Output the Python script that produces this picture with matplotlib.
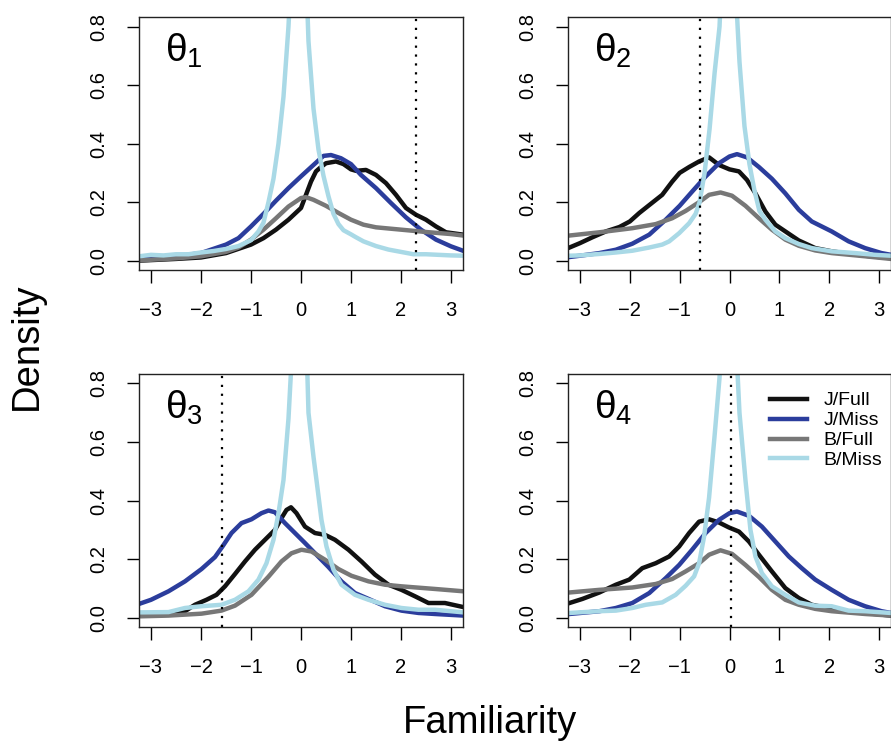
import matplotlib
matplotlib.use("Agg")
import matplotlib.pyplot as plt

plt.rcParams['font.family'] = ['Liberation Sans', 'DejaVu Sans']

# panel 1
t1_jfull_x = [-3.24, -3.0, -2.5, -2.0, -1.5, -1.0, -0.75, -0.5, -0.25, 0.0, 0.1, 0.2, 0.3, 0.4, 0.5, 0.7, 0.85, 1.0, 1.1, 1.3, 1.5, 1.7, 1.9, 2.1, 2.3, 2.5, 2.7, 2.9, 3.24]
t1_jfull_y = [0.0, 0.002, 0.006, 0.011, 0.026, 0.055, 0.077, 0.106, 0.14, 0.18, 0.225, 0.27, 0.305, 0.32, 0.333, 0.339, 0.33, 0.312, 0.307, 0.31, 0.293, 0.265, 0.225, 0.18, 0.157, 0.14, 0.117, 0.097, 0.089]
t1_jmiss_x = [-3.24, -3.0, -2.5, -2.0, -1.5, -1.25, -1.0, -0.75, -0.5, -0.25, 0.0, 0.25, 0.45, 0.6, 0.8, 1.0, 1.2, 1.5, 1.8, 2.1, 2.4, 2.7, 3.0, 3.24]
t1_jmiss_y = [0.006, 0.008, 0.015, 0.026, 0.055, 0.077, 0.117, 0.16, 0.205, 0.248, 0.288, 0.327, 0.358, 0.361, 0.35, 0.33, 0.293, 0.248, 0.197, 0.148, 0.106, 0.072, 0.049, 0.034]
t1_bfull_x = [-3.24, -2.5, -2.0, -1.5, -1.25, -1.0, -0.75, -0.5, -0.25, 0.0, 0.1, 0.25, 0.5, 0.75, 1.0, 1.25, 1.5, 2.0, 2.5, 3.0, 3.24]
t1_bfull_y = [0.001, 0.008, 0.015, 0.03, 0.045, 0.072, 0.106, 0.145, 0.185, 0.214, 0.217, 0.208, 0.1875, 0.163, 0.14, 0.123, 0.114, 0.106, 0.098, 0.091, 0.086]
t1_bmiss_x = [-3.24, -3.0, -2.75, -2.5, -2.25, -2.0, -1.75, -1.5, -1.25, -1.0, -0.85, -0.75, -0.65, -0.55, -0.45, -0.35, -0.25, -0.15, -0.05, 0.05, 0.15, 0.25, 0.35, 0.45, 0.55, 0.65, 0.75, 0.85, 1.0, 1.1, 1.25, 1.5, 1.75, 2.0, 2.25, 2.5, 2.75, 3.0, 3.24]
t1_bmiss_y = [0.015, 0.02, 0.018, 0.022, 0.022, 0.028, 0.033, 0.04, 0.05, 0.07, 0.1, 0.13, 0.2, 0.28, 0.4, 0.56, 0.8, 1.15, 1.4, 1.25, 0.75, 0.52, 0.38, 0.29, 0.22, 0.16, 0.125, 0.104, 0.09, 0.08, 0.066, 0.05, 0.038, 0.03, 0.022, 0.022, 0.02, 0.018, 0.017]

# panel 2
t2_jfull_x = [-3.21, -3.0, -2.75, -2.48, -2.21, -2.0, -1.81, -1.61, -1.35, -1.15, -1.0, -0.81, -0.61, -0.41, -0.21, 0.0, 0.19, 0.35, 0.52, 0.72, 0.92, 1.12, 1.39, 1.72, 2.05, 2.39, 2.72, 3.22]
t2_jfull_y = [0.045, 0.06, 0.08, 0.1, 0.115, 0.134, 0.163, 0.19, 0.225, 0.27, 0.3, 0.32, 0.339, 0.353, 0.327, 0.312, 0.305, 0.276, 0.23, 0.168, 0.123, 0.1, 0.069, 0.043, 0.032, 0.024, 0.017, 0.009]
t2_jmiss_x = [-3.21, -3.0, -2.61, -2.28, -1.95, -1.61, -1.28, -1.0, -0.75, -0.48, -0.21, 0.0, 0.15, 0.35, 0.59, 0.85, 1.12, 1.39, 1.65, 2.05, 2.39, 2.72, 3.05, 3.24]
t2_jmiss_y = [0.0125, 0.017, 0.026, 0.0375, 0.058, 0.089, 0.14, 0.1875, 0.236, 0.2875, 0.333, 0.356, 0.364, 0.353, 0.32, 0.28, 0.23, 0.174, 0.134, 0.1, 0.066, 0.043, 0.026, 0.02]
t2_bfull_x = [-3.21, -2.61, -1.95, -1.48, -1.15, -0.88, -0.61, -0.41, -0.18, 0.05, 0.32, 0.59, 0.85, 1.12, 1.39, 1.72, 2.05, 2.72, 3.24]
t2_bfull_y = [0.086, 0.097, 0.111, 0.125, 0.145, 0.17, 0.2, 0.225, 0.233, 0.222, 0.1875, 0.145, 0.106, 0.072, 0.051, 0.035, 0.026, 0.015, 0.006]
t2_bmiss_x = [-3.21, -3.0, -2.61, -2.28, -1.95, -1.61, -1.35, -1.21, -1.01, -0.81, -0.68, -0.6, -0.5, -0.4, -0.3, -0.2, -0.1, 0.0, 0.1, 0.2, 0.3, 0.4, 0.5, 0.6, 0.72, 0.92, 1.12, 1.39, 1.65, 2.05, 2.52, 2.92, 3.24]
t2_bmiss_y = [0.017, 0.018, 0.023, 0.028, 0.034, 0.045, 0.055, 0.066, 0.094, 0.128, 0.16, 0.2, 0.3, 0.45, 0.64, 0.8, 1.2, 1.4, 1.0, 0.68, 0.46, 0.33, 0.24, 0.17, 0.14, 0.1, 0.077, 0.057, 0.043, 0.032, 0.026, 0.02, 0.017]

# panel 3
t3_jfull_x = [-3.22, -2.65, -2.32, -2.12, -1.89, -1.69, -1.52, -1.32, -1.12, -0.92, -0.72, -0.52, -0.39, -0.29, -0.2, -0.09, 0.08, 0.28, 0.48, 0.68, 0.95, 1.21, 1.48, 1.75, 2.01, 2.28, 2.55, 2.88, 3.25]
t3_jfull_y = [0.007, 0.01, 0.022, 0.044, 0.061, 0.078, 0.107, 0.149, 0.192, 0.232, 0.266, 0.3, 0.34, 0.368, 0.377, 0.357, 0.311, 0.289, 0.283, 0.266, 0.232, 0.192, 0.147, 0.1125, 0.095, 0.073, 0.05, 0.05, 0.036]
t3_jmiss_x = [-3.22, -3.0, -2.65, -2.32, -1.99, -1.72, -1.57, -1.39, -1.19, -0.99, -0.79, -0.65, -0.52, -0.32, -0.12, 0.08, 0.28, 0.55, 0.81, 1.08, 1.35, 1.68, 2.01, 2.35, 2.68, 3.25]
t3_jmiss_y = [0.048, 0.061, 0.09, 0.124, 0.166, 0.207, 0.243, 0.289, 0.323, 0.336, 0.357, 0.366, 0.36, 0.323, 0.289, 0.255, 0.22, 0.173, 0.124, 0.084, 0.064, 0.039, 0.024, 0.016, 0.0125, 0.007]
t3_bfull_x = [-3.22, -2.65, -1.99, -1.59, -1.32, -0.99, -0.65, -0.39, -0.19, 0.01, 0.21, 0.48, 0.75, 1.01, 1.35, 1.68, 2.01, 2.68, 3.25]
t3_bfull_y = [0.0045, 0.007, 0.0136, 0.024, 0.041, 0.078, 0.14, 0.192, 0.22, 0.232, 0.226, 0.198, 0.166, 0.143, 0.124, 0.1125, 0.107, 0.098, 0.09]
t3_bmiss_x = [-3.22, -2.65, -2.32, -1.99, -1.59, -1.32, -1.05, -0.85, -0.69, -0.55, -0.45, -0.35, -0.25, -0.15, -0.05, 0.05, 0.15, 0.25, 0.31, 0.41, 0.51, 0.65, 0.81, 1.08, 1.35, 1.68, 2.01, 2.35, 2.68, 3.25]
t3_bmiss_y = [0.018, 0.019, 0.033, 0.039, 0.044, 0.061, 0.09, 0.13, 0.186, 0.266, 0.357, 0.47, 0.68, 1.0, 1.4, 1.3, 0.7, 0.55, 0.47, 0.334, 0.243, 0.164, 0.1125, 0.078, 0.061, 0.044, 0.033, 0.027, 0.027, 0.018]

# panel 4
t4_jfull_x = [-3.21, -2.95, -2.61, -2.28, -2.01, -1.75, -1.48, -1.21, -1.01, -0.81, -0.61, -0.41, -0.21, -0.01, 0.19, 0.39, 0.59, 0.85, 1.12, 1.39, 1.65, 2.05, 2.52, 2.92, 3.24]
t4_jfull_y = [0.05, 0.064, 0.086, 0.1125, 0.13, 0.169, 0.186, 0.209, 0.243, 0.289, 0.328, 0.336, 0.325, 0.308, 0.294, 0.26, 0.215, 0.158, 0.101, 0.067, 0.044, 0.03, 0.018, 0.0125, 0.007]
t4_jmiss_x = [-3.21, -2.61, -2.28, -1.95, -1.61, -1.28, -1.01, -0.75, -0.48, -0.21, 0.0, 0.15, 0.39, 0.65, 0.92, 1.19, 1.45, 1.72, 2.05, 2.39, 2.72, 3.05, 3.24]
t4_jmiss_y = [0.0125, 0.022, 0.033, 0.05, 0.084, 0.135, 0.18, 0.232, 0.289, 0.334, 0.357, 0.3625, 0.348, 0.311, 0.26, 0.209, 0.169, 0.13, 0.095, 0.061, 0.039, 0.022, 0.016]
t4_bfull_x = [-3.21, -2.61, -1.95, -1.48, -1.15, -0.88, -0.61, -0.41, -0.18, 0.05, 0.32, 0.59, 0.85, 1.12, 1.39, 1.72, 2.05, 2.72, 3.24]
t4_bfull_y = [0.086, 0.095, 0.103, 0.115, 0.132, 0.158, 0.186, 0.215, 0.23, 0.218, 0.18, 0.139, 0.095, 0.061, 0.044, 0.03, 0.022, 0.0125, 0.007]
t4_bmiss_x = [-3.21, -2.61, -2.28, -1.95, -1.68, -1.35, -1.08, -0.88, -0.71, -0.61, -0.51, -0.41, -0.3, -0.2, -0.1, 0.0, 0.1, 0.2, 0.32, 0.42, 0.52, 0.65, 0.85, 1.12, 1.39, 1.72, 2.05, 2.39, 2.72, 3.24]
t4_bmiss_y = [0.016, 0.022, 0.024, 0.033, 0.044, 0.052, 0.078, 0.109, 0.141, 0.186, 0.277, 0.41, 0.62, 0.82, 1.2, 1.4, 1.05, 0.7, 0.47, 0.3, 0.209, 0.152, 0.107, 0.078, 0.052, 0.041, 0.039, 0.024, 0.022, 0.016]

true_vals = [2.3, -0.6, -1.58, 0.03]
labels = ["J/Full", "J/Miss", "B/Full", "B/Miss"]
colors = ["#111111", "#2b3d9c", "#777777", "#a9d9e6"]

panels = [
    [(t1_jfull_x, t1_jfull_y), (t1_jmiss_x, t1_jmiss_y), (t1_bfull_x, t1_bfull_y), (t1_bmiss_x, t1_bmiss_y)],
    [(t2_jfull_x, t2_jfull_y), (t2_jmiss_x, t2_jmiss_y), (t2_bfull_x, t2_bfull_y), (t2_bmiss_x, t2_bmiss_y)],
    [(t3_jfull_x, t3_jfull_y), (t3_jmiss_x, t3_jmiss_y), (t3_bfull_x, t3_bfull_y), (t3_bmiss_x, t3_bmiss_y)],
    [(t4_jfull_x, t4_jfull_y), (t4_jmiss_x, t4_jmiss_y), (t4_bfull_x, t4_bfull_y), (t4_bmiss_x, t4_bmiss_y)],
]

fig = plt.figure(figsize=(8.91, 7.46), dpi=100)
boxes = [
    [0.156, 0.638, 0.3636, 0.339],
    [0.6375, 0.638, 0.3625, 0.339],
    [0.156, 0.1595, 0.3636, 0.339],
    [0.6375, 0.1595, 0.3625, 0.339],
]

for i in range(4):
    ax = fig.add_axes(boxes[i])
    for (xs, ys), c, lab in zip(panels[i], colors, labels):
        ax.plot(xs, ys, color=c, lw=3.2, label=lab, solid_joinstyle='round')
    ax.axvline(true_vals[i], color='black', lw=1.6, linestyle=(0, (1, 3)))
    ax.set_xlim(-3.24, 3.24)
    ax.set_ylim(-0.032, 0.832)
    ax.set_xticks([-3, -2, -1, 0, 1, 2, 3])
    ax.set_yticks([0.0, 0.2, 0.4, 0.6, 0.8])
    ax.set_yticklabels(["0.0", "0.2", "0.4", "0.6", "0.8"], rotation=90, va='center')
    ax.tick_params(direction='out', length=9, width=1, pad=13, labelsize=14.5)
    for s in ax.spines.values():
        s.set_linewidth(1)
        s.set_color('#222222')
    ax.text(0.08, 0.822, r'$\mathregular{\theta_%d}$' % (i + 1), transform=ax.transAxes,
            fontsize=28, va='baseline', ha='left')
    if i == 3:
        ax.legend(loc='upper left', bbox_to_anchor=(0.625, 0.93), frameon=False,
                  fontsize=14, handlelength=1.9, handletextpad=0.85,
                  labelspacing=0.12, borderpad=0, borderaxespad=0)

fig.text(0.03, 0.5355, "Density", rotation=90, ha='center', va='center', fontsize=27.5)
fig.text(0.55, 0.0174, "Familiarity", ha='center', va='baseline', fontsize=27.5)

fig.savefig("out.png", dpi=100)
